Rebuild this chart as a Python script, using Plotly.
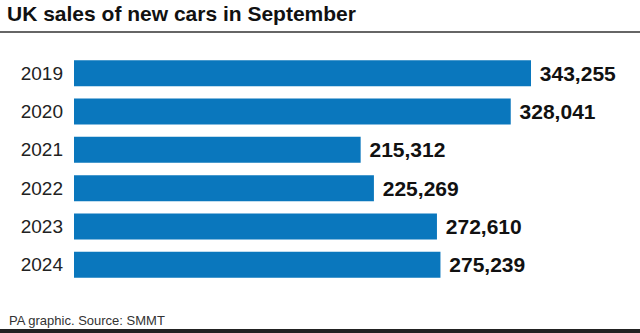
import plotly.graph_objects as go

years = ["2019", "2020", "2021", "2022", "2023", "2024"]
sales = [343255, 328041, 215312, 225269, 272610, 275239]
title_text = "UK sales of new cars in September"
source_text = "PA graphic. Source: SMMT"

W, H = 640, 333
ML, MR, MT, MB = 74, 0, 54, 49
plot_w = W - ML - MR
plot_h = H - MT - MB
# longest bar ends at ~531px
xmax = sales[0] * plot_w / (531 - ML)

FONT = "Liberation Sans, Arial, Helvetica, sans-serif"

fig = go.Figure(go.Bar(
    x=sales, y=years, orientation="h",
    marker=dict(color="#0a77bd", line=dict(width=0)),
    text=[f"{v:,}" for v in sales],
    texttemplate=" %{text}",
    textposition="outside",
    constraintext="none",
    cliponaxis=False,
    textfont=dict(family=FONT, size=21, color="#111111", weight="bold"),
    hoverinfo="skip",
))

def py(px):
    return 1 - (px - MT) / plot_h

def pxx(px):
    return (px - ML) / plot_w

fig.update_layout(
    width=W, height=H,
    margin=dict(l=ML, r=MR, t=MT, b=MB, pad=0),
    paper_bgcolor="white", plot_bgcolor="white",
    showlegend=False,
    bargap=0.32,
    xaxis=dict(range=[0, xmax], visible=False, fixedrange=True),
    yaxis=dict(categoryorder="array", categoryarray=years, autorange="reversed",
               showgrid=False, zeroline=False, showline=False, ticks="",
               ticklabelstandoff=10,
               tickfont=dict(family=FONT, size=19, color="#222222")),
    title=dict(text=title_text, x=7 / W, xanchor="left", xref="container",
               y=1 - 14 / H, yanchor="middle", yref="container",
               font=dict(family=FONT, size=21, color="#111111", weight="bold")),
    shapes=[
        dict(type="line", xref="paper", yref="paper",
             x0=pxx(0), x1=pxx(W), y0=py(32), y1=py(32),
             line=dict(color="#333333", width=1.5)),
        dict(type="rect", xref="paper", yref="paper",
             x0=pxx(0), x1=pxx(W), y0=py(329), y1=py(334),
             line=dict(width=0), fillcolor="#222222"),
    ],
    annotations=[
        dict(text=source_text, xref="paper", yref="paper",
             x=pxx(7), y=py(320), xanchor="left", yanchor="middle",
             showarrow=False, font=dict(family=FONT, size=13, color="#333333")),
    ],
)

fig.write_html("out.html", config={"displayModeBar": False})
